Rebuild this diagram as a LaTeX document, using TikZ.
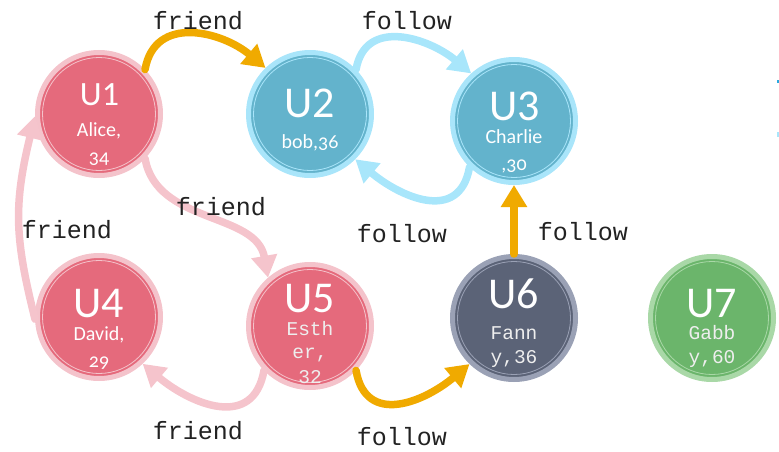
\documentclass[tikz,border=0pt]{standalone}
\usepackage{fontspec}
\setmainfont{Carlito}[Numbers=OldStyle]
\newfontfamily\labelfont{Carlito}[Numbers=Lining]
\setmonofont{Liberation Mono}
\usetikzlibrary{arrows.meta}
\definecolor{pinkfill}{HTML}{E56A7C}
\definecolor{pinkring}{HTML}{F4C3CB}
\definecolor{bluefill}{HTML}{63B3CC}
\definecolor{bluering}{HTML}{A9E5FA}
\definecolor{grayfill}{HTML}{5B6377}
\definecolor{grayring}{HTML}{9AA1B5}
\definecolor{greenfill}{HTML}{6BB56B}
\definecolor{greenring}{HTML}{A9D8A7}
\definecolor{orangeedge}{HTML}{F0AA00}
\definecolor{pinkedge}{HTML}{F5C4CC}
\definecolor{cyanedge}{HTML}{A8E6FB}
\definecolor{cyandark}{HTML}{29A9E0}
\definecolor{subtext}{HTML}{EEEEEE}
\definecolor{labeltext}{HTML}{222222}
\begin{document}
\begin{tikzpicture}[x=1pt,y=1pt,
  user/.style={circle, minimum size=123pt, inner sep=0pt, line width=5pt},
  pinku/.style={user, draw=pinkring, fill=pinkfill},
  blueu/.style={user, draw=bluering, fill=bluefill},
  grayu/.style={user, draw=grayring, fill=grayfill},
  greenu/.style={user, draw=greenring, fill=greenfill},
  big/.style={text=white, font=\labelfont\fontsize{44}{44}\selectfont, anchor=base, inner sep=0pt, text depth=0pt},
  mid/.style={text=white, font=\labelfont\fontsize{34}{34}\selectfont, anchor=base, inner sep=0pt, text depth=0pt},
  sub/.style={text=white, font=\fontsize{20}{20}\selectfont, anchor=base, inner sep=0pt, text depth=0pt},
  msub/.style={text=subtext, font=\ttfamily\fontsize{19.5}{19.5}\selectfont, anchor=base, inner sep=0pt, text depth=0pt},
  elabel/.style={text=labeltext, font=\ttfamily\fontsize{25}{25}\selectfont, inner sep=0pt},
  edgeline/.style={line width=7.5pt, line cap=round, -{Triangle[width=25pt,length=22pt]}},
  oedge/.style={edgeline, draw=orangeedge},
  pedge/.style={edgeline, draw=pinkedge},
  cedge/.style={edgeline, draw=cyanedge},
]
\useasboundingbox (0,0) rectangle (779,-452);

% user nodes
\node[pinku]  (u1) at (99,-114) {};
\node[blueu]  (u2) at (310,-114) {};
\node[blueu]  (u3) at (514,-121) {};
\node[pinku]  (u4) at (99,-317) {};
\node[pinku]  (u5) at (310,-326) {};
\node[grayu]  (u6) at (514,-318) {};
\node[greenu] (u7) at (712,-318) {};
\foreach \n/\c in {u1/pinkring,u2/bluering,u3/bluering,u4/pinkring,u5/pinkring,u6/grayring,u7/greenring}
  \draw[\c, line width=0.8pt] (\n) circle (56.5pt);

% texts
\node[mid] (t1a) at (99.5,-105) {U1};
\node[sub] (t1b) at (99,-136) {Alice,};
\node[sub] (t1c) at (99,-163) {34};

\node[big] (t2a) at (310,-117) {U2};
\node[sub] (t2b) at (310,-148) {bob,36};

\node[big] (t3a) at (515,-120) {U3};
\node[sub] (t3b) at (514,-143) {Charlie};
\node[sub] (t3c) at (514,-170) {,30};

\node[big] (t4a) at (99,-317) {U4};
\node[sub] (t4b) at (99,-340) {David,};
\node[sub] (t4c) at (99,-367) {29};

\node[big] (t5a) at (310,-312) {U5};
\node[msub] (t5b) at (310,-335) {Esth};
\node[msub] (t5c) at (310,-358) {er,};
\node[msub] (t5d) at (310,-383) {32};

\node[big] (t6a) at (514,-308) {U6};
\node[msub] (t6b) at (514,-339) {Fann};
\node[msub] (t6c) at (514,-363) {y,36};

\node[big] (t7a) at (712,-317) {U7};
\node[msub] (t7b) at (712,-339) {Gabb};
\node[msub] (t7c) at (712,-363) {y,60};

% edges
\draw[oedge] (u1.44) to[out=80,in=140,looseness=1.2] (u2.134);
\draw[cedge] (u2.44) to[out=80,in=140,looseness=1.2] (u3.132);
\draw[cedge] (u3.226) to[out=-100,in=-40,looseness=1.3] (u2.-45);
\draw[pedge] (u1.-44) to[out=-80,in=100] (u5.131);
\draw[pedge] (u4.182) .. controls +(-20,80) and +(-22,-90) .. (u1.182);
\draw[pedge] (u5.-136) to[out=-100,in=-40,looseness=1.3] (u4.-47);
\draw[oedge] (u5.-44) to[out=-80,in=-140,looseness=1.3] (u6.-134);
\draw[oedge] (u6.north) -- (u3.south);

% edge labels
\node[elabel] (l1) at (198,-21) {friend};
\node[elabel] (l2) at (407,-21) {follow};
\node[elabel] (l3) at (221,-207) {friend};
\node[elabel] (l4) at (67,-230) {friend};
\node[elabel] (l5) at (402,-234) {follow};
\node[elabel] (l6) at (583,-232) {follow};
\node[elabel] (l7) at (198,-431) {friend};
\node[elabel] (l8) at (402,-437) {follow};

% clipped fragments at right edge
\fill[cyandark] (777,-80) rectangle (779,-83);
\fill[cyanedge] (777,-132) rectangle (779,-137);
\end{tikzpicture}
\end{document}
